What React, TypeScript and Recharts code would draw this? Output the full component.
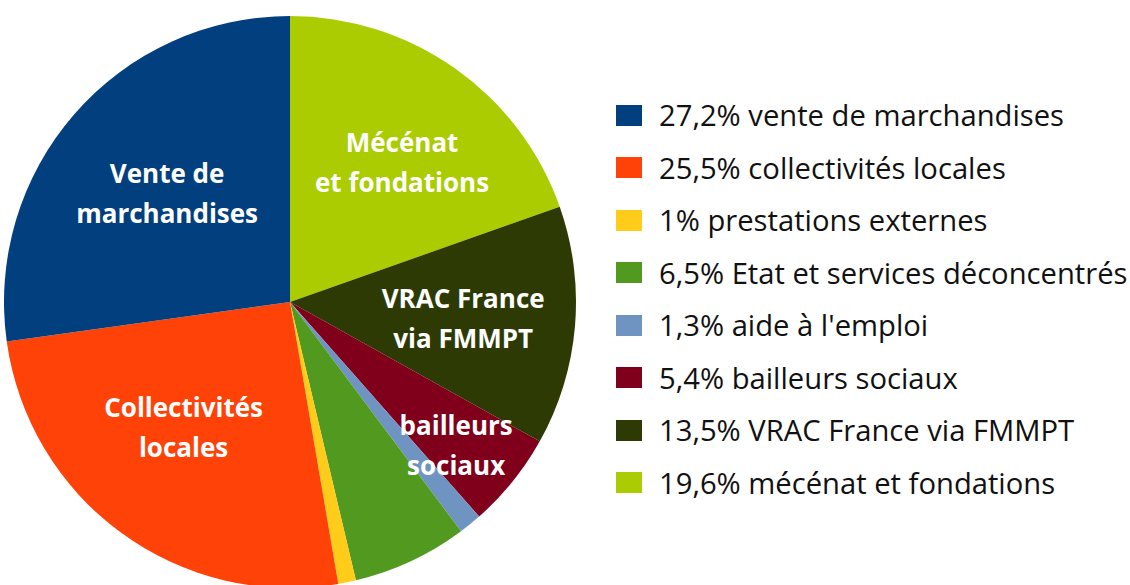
import { Cell, Legend, Pie, PieChart } from "recharts";

// slices, clockwise from 12 o'clock
const NAMES = [
  "mécénat et fondations",
  "VRAC France via FMMPT",
  "bailleurs sociaux",
  "aide à l'emploi",
  "Etat et services déconcentrés",
  "prestations externes",
  "collectivités locales",
  "vente de marchandises",
];
const SHARES = [19.6, 13.5, 5.4, 1.3, 6.5, 1, 25.5, 27.2];
const COLORS = ["#aacc00", "#2d3a04", "#80001c", "#7094c2", "#519a1f", "#ffcc1a", "#ff4208", "#023f7f"];
const SLICE_LABELS = [
  ["Mécénat", "et fondations"],
  ["VRAC France", "via FMMPT"],
  ["bailleurs", "sociaux"],
  [],
  [],
  [],
  ["Collectivités", "locales"],
  ["Vente de", "marchandises"],
];
// legend lists the slices bottom-up
const LEGEND_ORDER = [7, 6, 5, 4, 3, 2, 1, 0];

// where each in-slice label sits: fraction of radius, angle nudge (deg, clockwise)
const LABEL_LAYOUT = [
  { r: 0.627, shift: 3.4 },
  { r: 0.608, shift: 0.4 },
  { r: 0.766, shift: 1.8 },
  { r: 0, shift: 0 },
  { r: 0, shift: 0 },
  { r: 0, shift: 0 },
  { r: 0.573, shift: 4.3 },
  { r: 0.575, shift: 0.6 },
];

const FONT = "'Open Sans', Lato, sans-serif";

const data = NAMES.map((name, i) => ({ name, value: SHARES[i] }));

const fmtPct = (v: number) => `${String(v).replace(".", ",")}%`;

function SliceLabel(props: any) {
  const { cx, cy, midAngle, outerRadius, index } = props;
  const lines = SLICE_LABELS[index];
  if (!lines || !lines.length) return null;
  const lay = LABEL_LAYOUT[index];
  const a = ((90 - midAngle + lay.shift) * Math.PI) / 180;
  const r = outerRadius * lay.r;
  const x = cx + r * Math.sin(a);
  const y = cy - r * Math.cos(a);
  return (
    <text
      x={x}
      y={y}
      fill="#fff"
      textAnchor="middle"
      dominantBaseline="central"
      style={{ fontFamily: FONT, fontWeight: 700, fontSize: 26 }}
    >
      {lines.map((l, k) => (
        <tspan key={k} x={x} dy={k === 0 ? -20 * (lines.length - 1) : 40}>
          {l}
        </tspan>
      ))}
    </text>
  );
}

function LegendList() {
  return (
    <div style={{ fontFamily: FONT, fontSize: 29.2, color: "#111" }}>
      {LEGEND_ORDER.map((i) => (
        <div key={i} style={{ display: "flex", alignItems: "center", height: 52.5 }}>
          <span style={{ width: 26, height: 21, background: COLORS[i], display: "inline-block", flex: "none" }} />
          <span style={{ marginLeft: 17, whiteSpace: "nowrap" }}>
            {fmtPct(SHARES[i])} {NAMES[i]}
          </span>
        </div>
      ))}
    </div>
  );
}

export default function App() {
  return (
    <div style={{ position: "absolute", left: 0, top: 0, width: 1130, height: 585, background: "#fff" }}>
      <PieChart width={1130} height={585} margin={{ top: 0, right: 0, bottom: 0, left: 0 }}>
        <Pie
          data={data}
          dataKey="value"
          nameKey="name"
          cx={290}
          cy={302}
          outerRadius={286}
          startAngle={90}
          endAngle={-270}
          stroke="none"
          label={SliceLabel}
          labelLine={false}
          isAnimationActive={false}
        >
          {data.map((d, i) => (
            <Cell key={d.name} fill={COLORS[i]} />
          ))}
        </Pie>
        <Legend
          layout="vertical"
          content={<LegendList />}
          wrapperStyle={{ left: 616, top: 89, width: 514 }}
        />
      </PieChart>
    </div>
  );
}
